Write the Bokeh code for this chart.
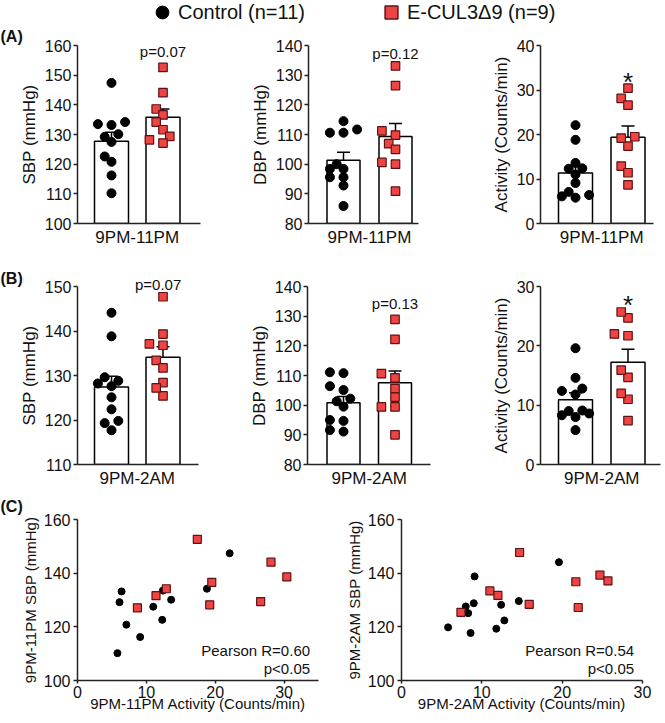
import numpy as np
from bokeh.plotting import figure
from bokeh.layouts import column, row
from bokeh.models import (Range1d, FixedTicker, Whisker, TeeHead, ColumnDataSource,
                          Label, Legend, LegendItem, Title)
from bokeh.embed import file_html
from bokeh.resources import INLINE

FONT = "Liberation Sans"
TXT = "#111111"
AX = "#222222"
RED = "#EE4444"
RED_EDGE = "#5E1212"

# ---------------- data ----------------
groups = ["Control (n=11)", "E-CUL3\u03949 (n=9)"]
periods = ["9PM-11PM", "9PM-2AM"]

# 9PM-11PM (per mouse, paired across panels)
ctrl_act_11 = [5.8, 6.4, 6.1, 7.1, 9.1, 11.0, 12.3, 12.4, 13.6, 18.8, 22.1]
ctrl_sbp_11 = [110.2, 133.2, 129.2, 120.8, 116.2, 127.5, 122.6, 133.5, 130.1, 134.2, 147.4]
ctrl_dbp_11 = [114.5, 110.6, 110.6, 111.7, 100.0, 98.4, 98.4, 95.6, 95.6, 92.8, 85.9]
ko_act_11 = [17.4, 28.1, 30.4, 19.5, 12.9, 11.4, 26.6, 19.2, 8.7]
ko_sbp_11 = [152.6, 144.1, 138.6, 136.6, 134.2, 131.6, 129.4, 128.2, 127.1]
ko_dbp_11 = [133.1, 126.5, 111.2, 109.8, 106.9, 105.0, 100.6, 100.0, 90.9]

# 9PM-2AM
ctrl_act_2 = [5.8, 9.1, 8.0, 8.3, 9.0, 8.6, 11.8, 12.4, 12.8, 14.6, 19.6]
ctrl_sbp_2 = [119.8, 138.8, 127.6, 125.1, 128.8, 117.7, 119.3, 128.2, 122.4, 129.6, 144.1]
ctrl_dbp_2 = [111.1, 110.8, 105.1, 106.4, 102.2, 101.3, 99.5, 94.7, 95.0, 91.1, 91.6]
ko_act_2 = [14.7, 11.0, 12.0, 7.4, 15.9, 21.7, 22.0, 24.7, 25.7]
ko_sbp_2 = [147.7, 133.4, 131.7, 125.4, 128.4, 136.8, 127.2, 139.3, 137.1]
ko_dbp_2 = [128.9, 122.2, 110.6, 109.2, 105.6, 102.7, 99.4, 99.4, 90.0]

bar_ylabels = ["SBP (mmHg)", "DBP (mmHg)", "Activity (Counts/min)"]
annot_A = ["p=0.07", "p=0.12", "*"]
annot_B = ["p=0.07", "p=0.13", "*"]
panel_tags = ["(A)", "(B)", "(C)"]
pearson = ["Pearson R=0.60", "Pearson R=0.54"]
pearson_p = "p<0.05"
scatter_xlabels = ["9PM-11PM Activity (Counts/min)", "9PM-2AM Activity (Counts/min)"]
scatter_ylabels = ["9PM-11PM SBP (mmHg)", "9PM-2AM SBP (mmHg)"]


def base_fig(w, h, bl, bt, br, bb, xr, yr):
    p = figure(width=w, height=h, min_border_left=bl, min_border_top=bt,
               min_border_right=br, min_border_bottom=bb, x_range=xr, y_range=yr,
               output_backend="svg", toolbar_location=None, tools="")
    p.outline_line_color = None
    p.grid.visible = False
    for ax in p.axis:
        ax.axis_line_color = AX
        ax.axis_line_width = 1.5
        ax.major_tick_line_color = AX
        ax.major_tick_line_width = 1.5
        ax.minor_tick_line_color = None
        ax.major_tick_in = 0
        ax.major_label_text_font = FONT
        ax.major_label_text_color = TXT
        ax.axis_label_text_font = FONT
        ax.axis_label_text_color = TXT
        ax.axis_label_text_font_style = "normal"
    return p


def add_tag(p, tag, frame_l, fig_x0, standoff=0):
    p.title = Title(text=tag, align="left", vertical_align="middle",
                    offset=-(frame_l - fig_x0),
                    text_font=FONT, text_font_size="16px", text_font_style="bold",
                    text_color=TXT, standoff=standoff)


def swarm(vals, px_y, px_x, d=8.2, step=6.8, max_k=2):
    vals = np.asarray(vals, dtype=float)
    order = np.argsort(vals)
    cands = [0.0]
    for k in range(1, max_k + 1):
        cands += [-k * step, k * step]
    placed = []
    offs = np.zeros(len(vals))
    for i in order:
        y = vals[i] * px_y
        best, best_d = None, -1.0
        for c in cands:
            md = min([np.hypot(c - qx, y - qy) for qx, qy in placed] + [1e9])
            if md >= d:
                best = c
                break
            if md > best_d:
                best, best_d = c, md
        placed.append((best, y))
        offs[i] = best / px_x
    return offs


def bar_panel(ctrl, ko, period, ylabel, y0, y1, step, fig_x0, fig_w, fig_h,
              frame_l, frame_r, bt, bb, c1, c2, bw_px, annot, annot_y,
              tag=None, tag_standoff=0, annot_as_title=False):
    bl = frame_l - fig_x0
    br = fig_x0 + fig_w - frame_r
    frame_h = fig_h - bt - bb
    unit = (c2 - c1) / 2.0  # px per data unit; groups at -1 and +1
    xs = -1 - (c1 - frame_l) / unit
    xe = 1 + (frame_r - c2) / unit
    p = base_fig(fig_w, fig_h, bl, bt, br, bb, Range1d(xs, xe), Range1d(y0, y1))
    px_y = frame_h / (y1 - y0)

    means = [float(np.mean(ctrl)), float(np.mean(ko))]
    sems = [float(np.std(ctrl, ddof=1) / np.sqrt(len(ctrl))),
            float(np.std(ko, ddof=1) / np.sqrt(len(ko)))]
    bw = bw_px / unit
    p.vbar(x=[-1, 1], top=means, bottom=y0, width=bw, fill_color="white",
           line_color="black", line_width=1.5)

    xc = -1 + swarm(ctrl, px_y, unit)
    xk = 1 + swarm(ko, px_y, unit)
    p.scatter(xc, ctrl, marker="circle", size=9, fill_color="black", line_color="black")
    p.scatter(xk, ko, marker="square", size=8.5, fill_color=RED, line_color=RED_EDGE,
              line_width=1.2)

    src = ColumnDataSource(dict(base=[-1, 1],
                                lower=[m - s for m, s in zip(means, sems)],
                                upper=[m + s for m, s in zip(means, sems)]))
    wh = Whisker(source=src, base="base", lower="lower", upper="upper",
                 dimension="height", line_color="black", line_width=1.5,
                 upper_head=TeeHead(size=13, line_width=1.5, line_color="black"),
                 lower_head=TeeHead(size=13, line_width=1.5, line_color="black"))
    p.add_layout(wh)

    if annot_as_title:
        # text sits just above the frame, centred over the second bar
        p.add_layout(Title(text=annot, align="left", vertical_align="middle",
                           offset=(c2 - 23) - (frame_l + 5), text_font=FONT,
                           text_font_size="15px", text_font_style="normal",
                           text_color=TXT, standoff=annot_y), "above")
    elif annot == "*":
        p.add_layout(Label(x=1, y=annot_y, text="*", text_font=FONT, text_font_size="26px",
                           text_align="center", text_baseline="middle", text_color=TXT))
    else:
        p.add_layout(Label(x=1, y=annot_y, text=annot, text_font=FONT, text_font_size="15px",
                           text_align="center", text_baseline="middle", text_color=TXT))

    p.yaxis.ticker = FixedTicker(ticks=list(range(y0, y1 + 1, step)))
    p.yaxis.major_tick_out = 4
    p.yaxis.major_label_standoff = 2
    p.yaxis.major_label_text_font_size = "16px"
    p.yaxis.axis_label = ylabel
    p.yaxis.axis_label_text_font_size = "17px"
    p.yaxis.axis_label_standoff = 3

    p.xaxis.ticker = FixedTicker(ticks=[0])
    p.xaxis.major_label_overrides = {0: period}
    p.xaxis.major_tick_line_color = None
    p.xaxis.major_tick_out = 0
    p.xaxis.major_label_standoff = 4
    p.xaxis.major_label_text_font_size = "17px"

    if tag is not None:
        add_tag(p, tag, frame_l, fig_x0, tag_standoff)
    return p


def scatter_panel(ca, cs, ka, ks, xlabel, ylabel, x_end, fig_x0, fig_w, fig_h,
                  frame_l, frame_r, bt, bb, ptxt, tag=None, tag_standoff=0):
    bl = frame_l - fig_x0
    br = fig_x0 + fig_w - frame_r
    p = base_fig(fig_w, fig_h, bl, bt, br, bb, Range1d(0, x_end), Range1d(100, 160))
    p.scatter(ca, cs, marker="circle", size=7, fill_color="black", line_color="black")
    p.scatter(ka, ks, marker="square", size=8, fill_color=RED, line_color=RED_EDGE,
              line_width=1.2)
    p.xaxis.ticker = FixedTicker(ticks=[0, 10, 20, 30])
    p.yaxis.ticker = FixedTicker(ticks=[100, 120, 140, 160])
    p.xaxis.major_tick_out = 3
    p.xaxis.major_label_standoff = 2
    p.yaxis.major_tick_out = 4
    p.yaxis.major_label_standoff = 3
    p.axis.major_label_text_font_size = "16px"
    p.xaxis.axis_label = xlabel
    p.yaxis.axis_label = ylabel
    p.axis.axis_label_text_font_size = "15px"
    p.xaxis.axis_label_standoff = -6
    p.yaxis.axis_label_standoff = 2
    xr = x_end * 0.965
    p.add_layout(Label(x=xr, y=111.2, text=ptxt, text_font=FONT, text_font_size="15px",
                       text_align="right", text_baseline="middle", text_color=TXT))
    p.add_layout(Label(x=xr, y=104.5, text=pearson_p, text_font=FONT, text_font_size="15px",
                       text_align="right", text_baseline="middle", text_color=TXT))
    if tag is not None:
        add_tag(p, tag, frame_l, fig_x0, tag_standoff)
    return p


# ---------------- legend strip ----------------
lf = figure(width=663, height=24, x_range=Range1d(0, 1), y_range=Range1d(0, 1),
            min_border=0, x_axis_type=None, y_axis_type=None,
            output_backend="svg", toolbar_location=None, tools="")
lf.outline_line_color = None
lf.grid.visible = False
nan1 = np.array([np.nan])
rc = lf.scatter(x=nan1, y=nan1, marker="circle", fill_color="black", line_color="black")
rk = lf.scatter(x=nan1, y=nan1, marker="square", fill_color=RED, line_color=RED_EDGE,
                line_width=1.5)
leg = Legend(items=[LegendItem(label=groups[0], renderers=[rc]),
                    LegendItem(label=groups[1], renderers=[rk])],
             orientation="horizontal", location=(146, -4), glyph_width=32, glyph_height=32,
             label_standoff=0, spacing=70, padding=0, margin=0, border_line_color=None,
             background_fill_alpha=0, label_text_font=FONT, label_text_font_size="20px",
             label_text_color=TXT)
lf.add_layout(leg)

# ---------------- row A ----------------
HA, BTA, BBA = 225, 21, 24
a1 = bar_panel(ctrl_sbp_11, ko_sbp_11, periods[0], bar_ylabels[0], 100, 160, 10,
               0, 236, HA, 77, 200, BTA, BBA, 111, 162.5, 34, annot_A[0], 158,
               tag=panel_tags[0])
a2 = bar_panel(ctrl_dbp_11, ko_dbp_11, periods[0], bar_ylabels[1], 80, 140, 10,
               236, 222, HA, 308, 418, BTA, BBA, 343, 395, 33, annot_A[1], 137.3)
a3 = bar_panel(ctrl_act_11, ko_act_11, periods[0], bar_ylabels[2], 0, 40, 10,
               458, 205, HA, 540, 653, BTA, BBA, 575, 627.5, 34, annot_A[2], 31.8)

# ---------------- row B ----------------
HB, BTB, BBB = 241, 37, 22
b1 = bar_panel(ctrl_sbp_2, ko_sbp_2, periods[1], bar_ylabels[0], 110, 150, 10,
               0, 236, HB, 77, 198, BTB, BBB, 111, 162.5, 34, annot_B[0], -14,
               tag=panel_tags[1], tag_standoff=-12, annot_as_title=True)
b2 = bar_panel(ctrl_dbp_2, ko_dbp_2, periods[1], bar_ylabels[1], 80, 140, 10,
               236, 222, HB, 307, 430, BTB, BBB, 343, 394.5, 33, annot_B[1], 134.4)
b3 = bar_panel(ctrl_act_2, ko_act_2, periods[1], bar_ylabels[2], 0, 30, 10,
               458, 205, HB, 540, 660, BTB, BBB, 575, 627.5, 34, annot_B[2], 26.9)

# ---------------- row C ----------------
HC, BTC, BBC = 231, 29, 41
c1 = scatter_panel(ctrl_act_11, ctrl_sbp_11, ko_act_11, ko_sbp_11, scatter_xlabels[0],
                   scatter_ylabels[0], 35, 0, 330, HC, 77, 318, BTC, BBC, pearson[0],
                   tag=panel_tags[2], tag_standoff=8)
c2 = scatter_panel(ctrl_act_2, ctrl_sbp_2, ko_act_2, ko_sbp_2, scatter_xlabels[1],
                   scatter_ylabels[1], 30, 330, 333, HC, 401, 642, BTC, BBC, pearson[1])

layout = column(lf, row(a1, a2, a3, spacing=0), row(b1, b2, b3, spacing=0),
                row(c1, c2, spacing=0), spacing=0)

open("out.html", "w").write(file_html(layout, INLINE))
